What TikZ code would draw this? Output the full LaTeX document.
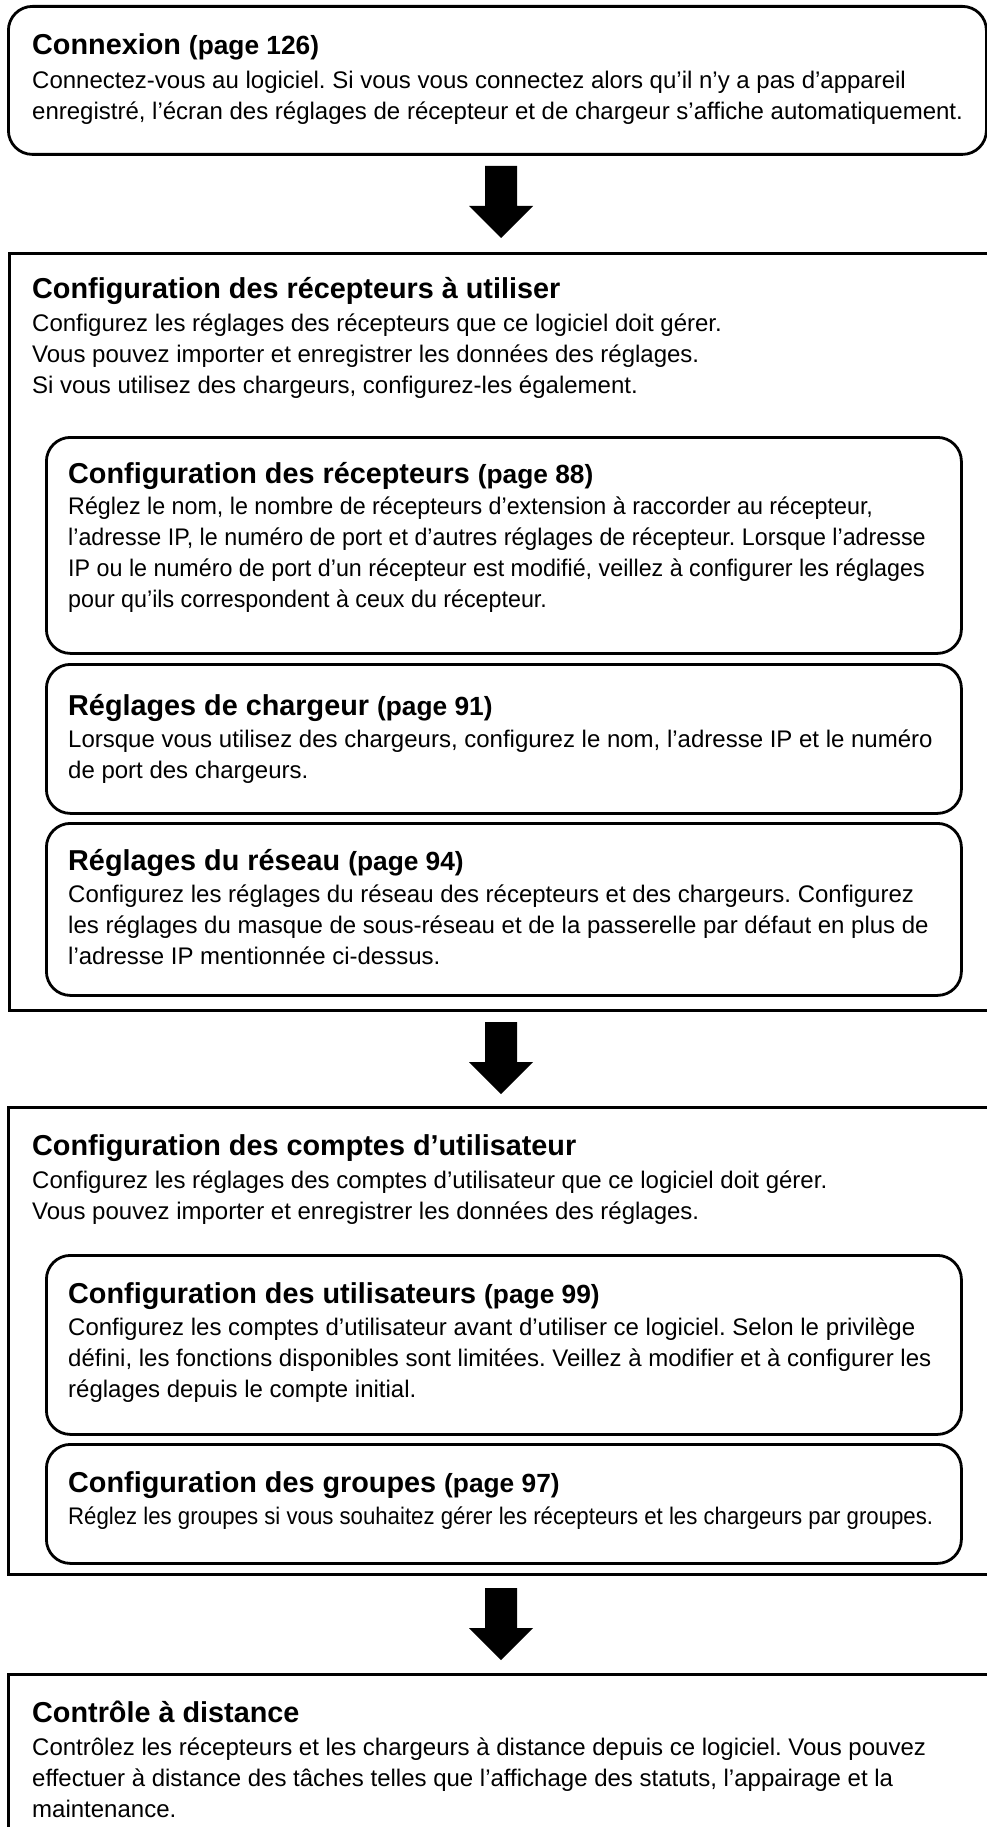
\documentclass[tikz,border=0pt]{standalone}
\usepackage{fontspec}
\setmainfont{Liberation Sans}
\usetikzlibrary{calc}
\newcommand{\mypg}[1]{{\fontsize{26.3}{30}\selectfont #1}}
\newcommand{\blk}[1]{\begin{tabular}[t]{@{}l@{}}#1\end{tabular}}
\newcommand{\blockarrow}[2]{%
  \fill ($(#1)+(-16,0)$) -- ($(#1)+(16,0)$) -- ($(#2)+(16,-32)$) -- ($(#2)+(32,-32)$)
    -- (#2) -- ($(#2)+(-32,-32)$) -- ($(#2)+(-16,-32)$) -- cycle;}
\begin{document}
\frenchspacing
\begin{tikzpicture}[x=1pt,y=-1pt,
  rbox/.style={draw, line width=2.8pt, rounded corners=24pt, anchor=north west, inner sep=0pt},
  obox/.style={draw, line width=2.8pt, anchor=north west, inner sep=0pt},
  ttl/.style={anchor=base west, inner sep=0pt, font=\fontsize{28.8}{34}\selectfont\bfseries\frenchspacing},
  bdy/.style={anchor=base west, inner sep=0pt, font=\fontsize{24}{31}\selectfont\frenchspacing},
]
\useasboundingbox (0,0) rectangle (987,1827);
\clip (0,0) rectangle (987,1827);

% Box 1
\node[rbox, minimum width=978pt, minimum height=148pt] (b1) at (7,5) {};
\node[ttl] (t1) at (32,55) {Connexion \mypg{(page 126)}};
\node[bdy] (x1) at (32,89) {\blk{Connectez-vous au logiciel. Si vous vous connectez alors qu’il n’y a pas d’appareil\\
enregistré, l’écran des réglages de récepteur et de chargeur s’affiche automatiquement.}};

% Box 2
\node[obox, minimum width=1000pt, minimum height=757pt] (b2) at (8,252) {};
\node[ttl] (t2) at (32,298) {Configuration des récepteurs à utiliser};
\node[bdy] (x2) at (32,331) {\blk{Configurez les réglages des récepteurs que ce logiciel doit gérer.\\
Vous pouvez importer et enregistrer les données des réglages.\\
Si vous utilisez des chargeurs, configurez-les également.}};

\node[rbox, minimum width=915pt, minimum height=216pt] (ba) at (45,436) {};
\node[ttl] (ta) at (68,483) {Configuration des récepteurs \mypg{(page 88)}};
\node[bdy] (xa) at (68,514) {\scalebox{0.97}[1]{\blk{Réglez le nom, le nombre de récepteurs d’extension à raccorder au récepteur,\\
l’adresse IP, le numéro de port et d’autres réglages de récepteur. Lorsque l’adresse\\
IP ou le numéro de port d’un récepteur est modifié, veillez à configurer les réglages\\
pour qu’ils correspondent à ceux du récepteur.}}};

\node[rbox, minimum width=915pt, minimum height=149pt] (bb) at (45,663) {};
\node[ttl] (tb) at (68,715) {Réglages de chargeur \mypg{(page 91)}};
\node[bdy] (xb) at (68,747) {\blk{Lorsque vous utilisez des chargeurs, configurez le nom, l’adresse IP et le numéro\\
de port des chargeurs.}};

\node[rbox, minimum width=915pt, minimum height=172pt] (bc) at (45,822) {};
\node[ttl] (tc) at (68,870) {Réglages du réseau \mypg{(page 94)}};
\node[bdy] (xc) at (68,902) {\blk{Configurez les réglages du réseau des récepteurs et des chargeurs. Configurez\\
les réglages du masque de sous-réseau et de la passerelle par défaut en plus de\\
l’adresse IP mentionnée ci-dessus.}};

% Box 3
\node[obox, minimum width=1000pt, minimum height=467pt] (b3) at (7,1106) {};
\node[ttl] (t3) at (32,1155) {Configuration des comptes d’utilisateur};
\node[bdy] (x3) at (32,1188) {\blk{Configurez les réglages des comptes d’utilisateur que ce logiciel doit gérer.\\
Vous pouvez importer et enregistrer les données des réglages.}};

\node[rbox, minimum width=915pt, minimum height=179pt] (bd) at (45,1254) {};
\node[ttl] (td) at (68,1303) {Configuration des utilisateurs \mypg{(page 99)}};
\node[bdy] (xd) at (68,1335) {\blk{Configurez les comptes d’utilisateur avant d’utiliser ce logiciel. Selon le privilège\\
défini, les fonctions disponibles sont limitées. Veillez à modifier et à configurer les\\
réglages depuis le compte initial.}};

\node[rbox, minimum width=915pt, minimum height=119pt] (be) at (45,1443) {};
\node[ttl] (te) at (68,1492) {Configuration des groupes \mypg{(page 97)}};
\node[bdy] (xe) at (68,1524) {\scalebox{0.925}[1]{Réglez les groupes si vous souhaitez gérer les récepteurs et les chargeurs par groupes.}};

% Box 4
\node[obox, minimum width=1000pt, minimum height=300pt] (b4) at (7,1673) {};
\node[ttl] (t4) at (32,1722) {Contrôle à distance};
\node[bdy] (x4) at (32,1755) {\blk{Contrôlez les récepteurs et les chargeurs à distance depuis ce logiciel. Vous pouvez\\
effectuer à distance des tâches telles que l’affichage des statuts, l’appairage et la\\
maintenance.}};

% Arrows
\coordinate (a1s) at (501,166); \coordinate (a1e) at (501,238);
\coordinate (a2s) at (501,1022); \coordinate (a2e) at (501,1094);
\coordinate (a3s) at (501,1588); \coordinate (a3e) at (501,1660);
\blockarrow{a1s}{a1e}
\blockarrow{a2s}{a2e}
\blockarrow{a3s}{a3e}
\end{tikzpicture}
\end{document}
